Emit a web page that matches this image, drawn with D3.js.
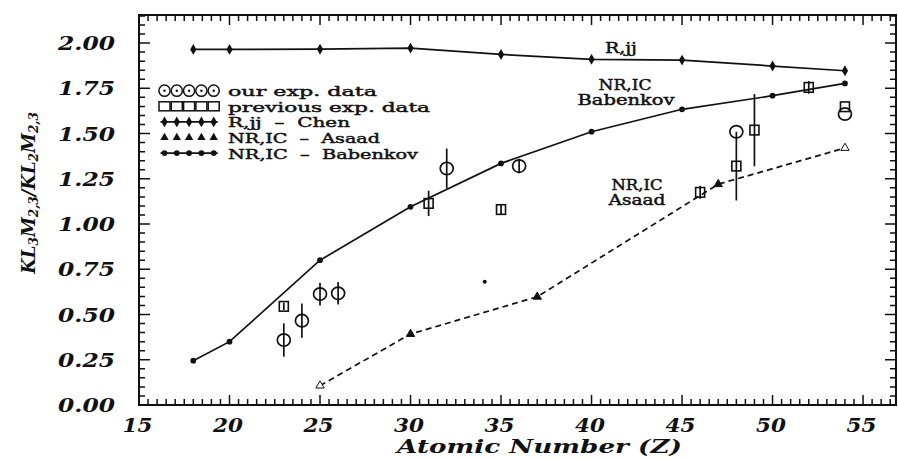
<!DOCTYPE html>
<html>
<head>
<meta charset="utf-8">
<script src="https://cdn.jsdelivr.net/npm/d3@7"></script>
<style>
  html, body { margin: 0; padding: 0; background: #fff; }
  svg { display: block; }
  text { white-space: pre; }
</style>
</head>
<body>
<svg id="chart" width="898" height="459"></svg>
<script>
// Relativistic (Chen) calculation
const chenZ = [18, 20, 25, 30, 35, 40, 45, 50, 54];
const chenV = [1.965, 1.965, 1.966, 1.972, 1.937, 1.91, 1.906, 1.873, 1.847];

// Non-relativistic, intermediate coupling (Babenkov)
const babZ = [18, 20, 25, 30, 35, 40, 45, 50, 54];
const babV = [0.245, 0.35, 0.80, 1.095, 1.335, 1.51, 1.634, 1.709, 1.777];

// Non-relativistic, intermediate coupling (Asaad)
const asaadZ = [25, 30, 37, 47, 54];
const asaadV = [0.107, 0.392, 0.598, 1.22, 1.42];

// Our experimental data with uncertainties
const ourZ = [23, 24, 25, 26, 32, 36, 48, 54];
const ourV = [0.359, 0.466, 0.613, 0.617, 1.307, 1.32, 1.51, 1.608];
const ourErr = [0.092, 0.095, 0.063, 0.062, 0.11, 0.04, 0, 0];

// Previous experimental data with uncertainties
const prevZ = [23, 31, 35, 46, 48, 49, 52, 54];
const prevV = [0.545, 1.114, 1.08, 1.175, 1.32, 1.519, 1.755, 1.648];
const prevErr = [0.02, 0.07, 0.025, 0.036, 0.19, 0.2, 0.035, 0];

// Single unlabelled point
const dotZ = [34.1];
const dotV = [0.681];

// Axis ticks
const xTicks = [15, 20, 25, 30, 35, 40, 45, 50, 55];
const yTicks = [0, 0.25, 0.5, 0.75, 1.0, 1.25, 1.5, 1.75, 2.0];

// Legend and annotation texts
const legendLabels = ["our exp. data", "previous exp. data", "R,jj  \u2013  Chen", "NR,IC  \u2013  Asaad", "NR,IC  \u2013  Babenkov"];
const xTitle = "Atomic Number (Z)";

const svg = d3.select("#chart");
const L = 139, R = 896, T = 15, B = 405;
const x = d3.scaleLinear().domain([15, 56.82]).range([L, R]);
const y = d3.scaleLinear().domain([0, 2.155]).range([B, T]);

const tickFont = "'DejaVu Serif', serif";
const ink = "#111";

// frame
svg.append("rect").attr("x", L).attr("y", T).attr("width", R - L).attr("height", B - T)
  .attr("fill", "none").attr("stroke", ink).attr("stroke-width", 2);

// ---- inward tick marks on all four sides, one path ----
const xMinor = d3.range(0, 84).map(i => 15 + i * 0.5);
const yMinor = d3.range(0, 44).map(i => i * 0.05);
const isMajorX = v => Math.abs(v / 5 - Math.round(v / 5)) < 1e-6;
const isMajorY = v => Math.abs(v / 0.25 - Math.round(v / 0.25)) < 1e-6;

const tp = d3.path();
xMinor.forEach(v => {
  const len = isMajorX(v) ? 10 : 6;
  tp.moveTo(x(v), B); tp.lineTo(x(v), B - len);
  tp.moveTo(x(v), T); tp.lineTo(x(v), T + len);
});
yMinor.forEach(v => {
  const len = isMajorY(v) ? 11 : 6;
  tp.moveTo(L, y(v)); tp.lineTo(L + len, y(v));
  tp.moveTo(R, y(v)); tp.lineTo(R - len, y(v));
});
svg.append("path").attr("d", tp.toString())
  .attr("fill", "none").attr("stroke", ink).attr("stroke-width", 1.5);

// tick labels
const xLab = svg.append("g").attr("transform", `translate(0,${B})`)
  .call(d3.axisBottom(x).tickValues(xTicks).tickSize(0).tickFormat(d3.format("d")));
xLab.select(".domain").remove();
xLab.selectAll("text")
  .attr("y", 27).attr("dy", null).attr("dx", -2)
  .attr("font-family", tickFont).attr("font-weight", "bold").attr("font-style", "italic")
  .attr("font-size", 19).attr("fill", ink)
  .attr("textLength", 30).attr("lengthAdjust", "spacingAndGlyphs");

const yLab = svg.append("g").attr("transform", `translate(${L},0)`)
  .call(d3.axisLeft(y).tickValues(yTicks).tickSize(0).tickFormat(d3.format(".2f")));
yLab.select(".domain").remove();
yLab.selectAll("text")
  .attr("x", -24).attr("dy", 6.7)
  .attr("font-family", tickFont).attr("font-weight", "bold").attr("font-style", "italic")
  .attr("font-size", 19).attr("fill", ink)
  .attr("textLength", 57).attr("lengthAdjust", "spacingAndGlyphs");

// axis titles
svg.append("text").attr("x", 539.5).attr("y", 453).attr("text-anchor", "middle")
  .attr("font-family", tickFont).attr("font-weight", "bold").attr("font-style", "italic")
  .attr("font-size", 19).attr("fill", ink)
  .attr("textLength", 285).attr("lengthAdjust", "spacingAndGlyphs")
  .text(xTitle);

const yt = svg.append("text").attr("transform", "translate(35,193) rotate(-90)")
  .attr("text-anchor", "middle")
  .attr("font-family", tickFont).attr("font-weight", "bold").attr("font-style", "italic")
  .attr("font-size", 18).attr("fill", ink);
const yParts = [["KL", 0], ["3", 1], ["M", 0], ["2,3", 1], ["/KL", 0], ["2", 1], ["M", 0], ["2,3", 1]];
yParts.forEach(([s, sub]) => {
  yt.append("tspan").attr("baseline-shift", sub ? "-25%" : null)
    .attr("font-size", sub ? 12 : 18).text(s);
});

// ---- theory curves ----
const line = d3.line().x(d => x(d[0])).y(d => y(d[1])).curve(d3.curveLinear);

const chen = chenZ.map((z, i) => [z, chenV[i]]);
const bab = babZ.map((z, i) => [z, babV[i]]);
const asaad = asaadZ.map((z, i) => [z, asaadV[i]]);

svg.append("path").datum(chen).attr("d", line).attr("fill", "none").attr("stroke", ink).attr("stroke-width", 1.7);
svg.append("path").datum(bab).attr("d", line).attr("fill", "none").attr("stroke", ink).attr("stroke-width", 1.7);
svg.append("path").datum(asaad).attr("d", line).attr("fill", "none").attr("stroke", ink)
  .attr("stroke-width", 1.7).attr("stroke-dasharray", "6,4");

const diamond = d3.symbol().type(d3.symbolDiamond).size(34);
const dot = d3.symbol().type(d3.symbolCircle).size(26);
const tri = d3.symbol().type(d3.symbolTriangle).size(30);

svg.append("g").selectAll("path").data(chen).join("path")
  .attr("d", diamond).attr("transform", d => `translate(${x(d[0])},${y(d[1])})`).attr("fill", ink);
svg.append("g").selectAll("path").data(bab).join("path")
  .attr("d", dot).attr("transform", d => `translate(${x(d[0])},${y(d[1])})`).attr("fill", ink);
svg.append("g").selectAll("path").data(asaad).join("path")
  .attr("d", tri).attr("transform", d => `translate(${x(d[0])},${y(d[1])})`)
  .attr("fill", (d, i) => (i === 0 || i === asaad.length - 1) ? "#fff" : ink)
  .attr("stroke", ink).attr("stroke-width", 1);

svg.append("g").selectAll("circle").data(dotZ.map((z, i) => [z, dotV[i]])).join("circle")
  .attr("cx", d => x(d[0])).attr("cy", d => y(d[1])).attr("r", 2).attr("fill", ink);

// ---- experimental points with error bars ----
const ours = ourZ.map((z, i) => ({ z, v: ourV[i], e: ourErr[i] }));
const prev = prevZ.map((z, i) => ({ z, v: prevV[i], e: prevErr[i] }));

function errBars(data) {
  svg.append("g").selectAll("line").data(data.filter(d => d.e > 0)).join("line")
    .attr("x1", d => x(d.z)).attr("x2", d => x(d.z))
    .attr("y1", d => y(d.v + d.e)).attr("y2", d => y(d.v - d.e))
    .attr("stroke", ink).attr("stroke-width", 1.7);
}
errBars(ours);
errBars(prev);

svg.append("g").selectAll("ellipse").data(ours).join("ellipse")
  .attr("cx", d => x(d.z)).attr("cy", d => y(d.v)).attr("rx", 6.5).attr("ry", 6.2)
  .attr("fill", "none").attr("stroke", ink).attr("stroke-width", 1.7);
svg.append("g").selectAll("rect").data(prev).join("rect")
  .attr("x", d => x(d.z) - 4.5).attr("y", d => y(d.v) - 4.8).attr("width", 9).attr("height", 9.6)
  .attr("fill", "none").attr("stroke", ink).attr("stroke-width", 1.6);

// ---- legend ----
const lg = svg.append("g");
const legX0 = 164.5, legStep = 12.3, legBase = 96.2, legRow = 15.6, legTextX = 228;
const legWidths = [149, 202, 122, 152, 190];
const idx5 = d3.range(5);
legendLabels.forEach((label, r) => {
  const base = legBase + r * legRow, cy = base - 5.5;
  if (r === 2 || r === 4) {
    lg.append("line").attr("x1", legX0 - 4).attr("x2", legX0 + 4 * legStep + 4)
      .attr("y1", cy).attr("y2", cy).attr("stroke", ink).attr("stroke-width", 1.6);
  }
  idx5.forEach(k => {
    const cx = legX0 + k * legStep;
    if (r === 0) {
      lg.append("circle").attr("cx", cx).attr("cy", cy).attr("r", 5.6).attr("fill", "none").attr("stroke", ink).attr("stroke-width", 1.5);
      lg.append("circle").attr("cx", cx).attr("cy", cy).attr("r", 1.2).attr("fill", ink);
    } else if (r === 1) {
      lg.append("rect").attr("x", cx - 5.5).attr("y", cy - 4.5).attr("width", 11).attr("height", 9).attr("fill", "none").attr("stroke", ink).attr("stroke-width", 1.5);
    } else if (r === 2) {
      lg.append("path").attr("d", diamond).attr("transform", `translate(${cx},${cy})`).attr("fill", ink);
    } else if (r === 3) {
      lg.append("path").attr("d", tri).attr("transform", `translate(${cx},${cy})`).attr("fill", ink);
    } else {
      lg.append("path").attr("d", dot).attr("transform", `translate(${cx},${cy})`).attr("fill", ink);
    }
  });
  lg.append("text").attr("x", legTextX).attr("y", base)
    .attr("font-family", tickFont).attr("font-size", 13.5).attr("fill", ink)
    .attr("stroke", ink).attr("stroke-width", 0.45)
    .attr("textLength", legWidths[r]).attr("lengthAdjust", "spacingAndGlyphs")
    .text(label);
});

// ---- curve annotations ----
const notes = [
  { t: "R,jj", cx: 621, base: 52.5, w: 32 },
  { t: "NR,IC", cx: 625, base: 90, w: 53 },
  { t: "Babenkov", cx: 626, base: 105, w: 97 },
  { t: "NR,IC", cx: 637, base: 189.5, w: 51 },
  { t: "Asaad", cx: 637, base: 205, w: 57 }
];
svg.append("g").selectAll("text").data(notes).join("text")
  .attr("x", d => d.cx).attr("y", d => d.base).attr("text-anchor", "middle")
  .attr("font-family", tickFont).attr("font-size", 14).attr("fill", ink)
  .attr("stroke", ink).attr("stroke-width", 0.45)
  .attr("textLength", d => d.w).attr("lengthAdjust", "spacingAndGlyphs")
  .text(d => d.t);
</script>
</body>
</html>
